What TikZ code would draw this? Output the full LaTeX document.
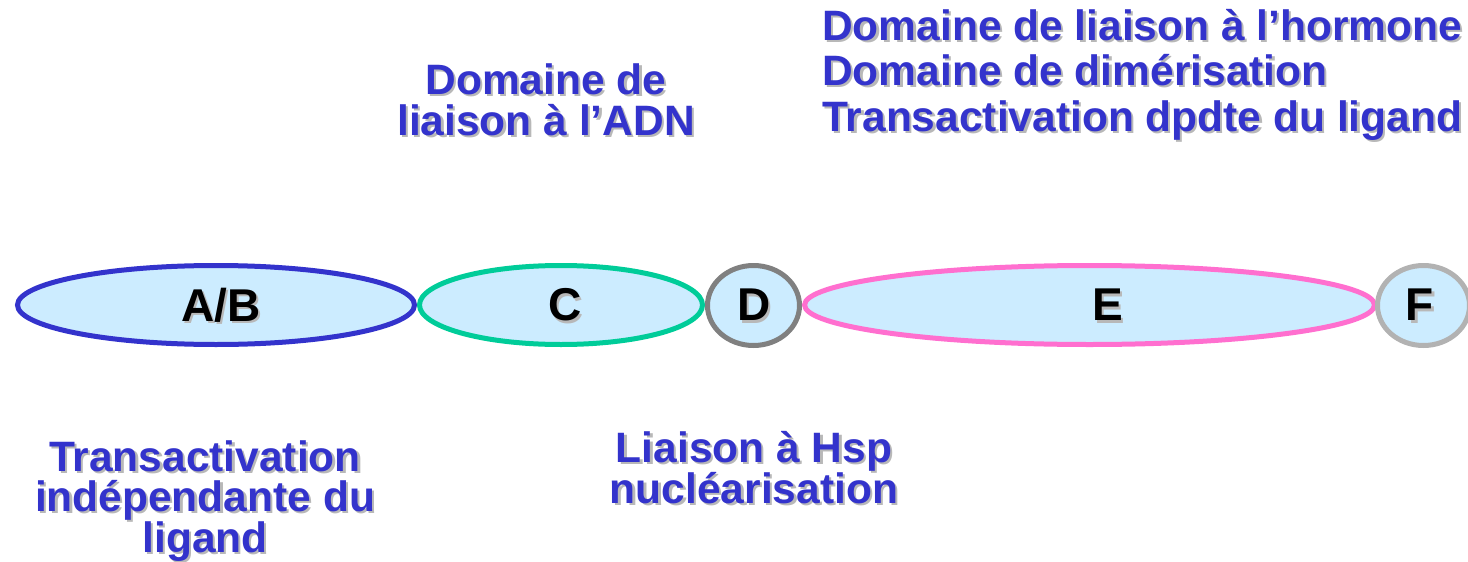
\documentclass[tikz,border=0pt]{standalone}
\usepackage{fontspec}
\setmainfont{Liberation Sans}
\usetikzlibrary{calc,shapes.geometric}
\definecolor{labelblue}{HTML}{3333CC}
\definecolor{domfill}{HTML}{CCECFF}
\definecolor{abline}{HTML}{3333CC}
\definecolor{cline}{HTML}{00CC99}
\definecolor{dline}{HTML}{808080}
\definecolor{eline}{HTML}{FF6FCF}
\definecolor{fline}{HTML}{B2B2B2}
\definecolor{shade}{HTML}{B8B8B8}
% name, position, style, text: a label with a soft grey drop shadow
\newcommand\shadowlabel[4]{%
  \node[#3, text=shade] at ($(#2)+(2.2,2.2)$) {#4};
  \node[#3] (#1) at (#2) {#4};}
\begin{document}
\begin{tikzpicture}[x=1pt,y=-1pt,
  domainshape/.style={ellipse, draw, line width=5pt, fill=domfill, inner sep=0pt},
  letter/.style={font=\fontsize{46}{50}\selectfont\bfseries, text=black, inner sep=0pt, anchor=center},
  note/.style={font=\fontsize{42.5}{40.5}\selectfont\bfseries, text=labelblue, inner sep=0pt, align=center, anchor=base},
  noteleft/.style={font=\fontsize{42.5}{45.5}\selectfont\bfseries, text=labelblue, inner sep=0pt, align=left, anchor=base west}]
  \useasboundingbox (0,0) rectangle (1468,562);
  \clip (0,0) rectangle (1468,562);
  % the five receptor domains
  \node[domainshape, draw=abline, minimum width=397pt, minimum height=79pt] (ab) at (216,305) {};
  \node[domainshape, draw=cline, minimum width=283pt, minimum height=79pt] (c) at (561,305) {};
  \node[domainshape, draw=dline, minimum width=92pt, minimum height=80pt] (d) at (753.5,305.5) {};
  \node[domainshape, draw=eline, minimum width=570pt, minimum height=79pt] (e) at (1089.5,305) {};
  \node[domainshape, draw=fline, minimum width=92pt, minimum height=80pt] (f) at (1423.5,305.5) {};
  % domain letters
  \shadowlabel{tab}{221,305}{letter}{A/B}
  \shadowlabel{tc}{565,305}{letter}{C}
  \shadowlabel{td}{754,305}{letter}{D}
  \shadowlabel{te}{1108,305}{letter}{E}
  \shadowlabel{tf}{1420,305}{letter}{F}
  % functions (anchored on the baseline of the last line)
  \shadowlabel{fhorm}{822,131}{noteleft}{Domaine de liaison à l’hormone\\Domaine de dimérisation\\Transactivation dpdte du ligand}
  \shadowlabel{fadn}{546,135}{note}{Domaine de\\liaison à l’ADN}
  \shadowlabel{ftrans}{205,552}{note}{Transactivation\\indépendante du\\ligand}
  \shadowlabel{fhsp}{754,503}{note}{Liaison à Hsp\\nucléarisation}
\end{tikzpicture}
\end{document}
